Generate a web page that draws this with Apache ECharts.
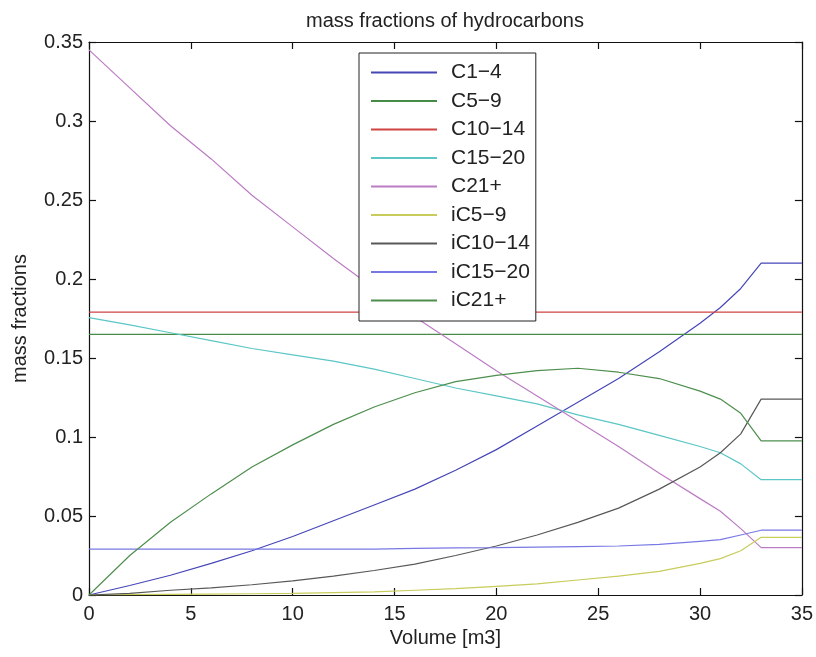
<!DOCTYPE html>
<html>
<head>
<meta charset="utf-8">
<script src="https://cdn.jsdelivr.net/npm/echarts@6/dist/echarts.min.js"></script>
<style>html,body{margin:0;padding:0;background:#fff}#c{width:816px;height:657px}</style>
</head>
<body>
<div id="c"></div>
<script>
var volume = [0,2,4,6,8,10,12,14,16,18,20,22,24,26,28,30,31,32,33,34,35];
var C1_4   = [0,0.006,0.0125,0.020,0.028,0.037,0.047,0.057,0.067,0.079,0.092,0.107,0.122,0.137,0.154,0.172,0.182,0.194,0.210,0.210,0.210];
var C5_9   = [0.165,0.165,0.165,0.165,0.165,0.165,0.165,0.165,0.165,0.165,0.165,0.165,0.165,0.165,0.165,0.165,0.165,0.165,0.165,0.165,0.165];
var C10_14 = [0.179,0.179,0.179,0.179,0.179,0.179,0.179,0.179,0.179,0.179,0.179,0.179,0.179,0.179,0.179,0.179,0.179,0.179,0.179,0.179,0.179];
var C15_20 = [0.1755,0.171,0.166,0.161,0.156,0.152,0.148,0.143,0.137,0.131,0.126,0.121,0.114,0.108,0.101,0.094,0.090,0.083,0.073,0.073,0.073];
var C21p   = [0.345,0.321,0.297,0.276,0.253,0.233,0.213,0.194,0.176,0.159,0.142,0.126,0.110,0.094,0.077,0.061,0.053,0.042,0.030,0.030,0.030];
var iC5_9  = [0,0.0002,0.0004,0.0006,0.0008,0.001,0.0015,0.002,0.003,0.004,0.0055,0.007,0.0095,0.012,0.015,0.020,0.023,0.028,0.0365,0.0365,0.0365];
var iC10_14= [0,0.001,0.003,0.0045,0.0065,0.009,0.012,0.0155,0.0195,0.025,0.031,0.038,0.046,0.055,0.067,0.081,0.090,0.102,0.124,0.124,0.124];
var iC15_20= [0.029,0.029,0.029,0.029,0.029,0.029,0.029,0.029,0.0295,0.0298,0.030,0.0303,0.0306,0.031,0.032,0.034,0.035,0.038,0.041,0.041,0.041];
var iC21p  = [0,0.025,0.046,0.064,0.081,0.095,0.108,0.119,0.128,0.135,0.139,0.142,0.1435,0.141,0.137,0.129,0.124,0.115,0.0975,0.0975,0.0975];
var seriesNames = ['C1\u22124','C5\u22129','C10\u221214','C15\u221220','C21+','iC5\u22129','iC10\u221214','iC15\u221220','iC21+'];
var seriesData = [C1_4,C5_9,C10_14,C15_20,C21p,iC5_9,iC10_14,iC15_20,iC21p];
var colors = ['#4646b8','#468c46','#d04444','#5cc6c6','#bc7cc4','#c8cc5a','#585858','#7878e4','#4e8e4e'];
var xTicks = {min:0,max:35,interval:5};
var yTicks = {min:0,max:0.35,interval:0.05};

var font = 'Liberation Sans, Arial, sans-serif';
var chart = echarts.init(document.getElementById('c'), null, {renderer:'canvas'});
var series = seriesNames.map(function(n,i){
  return {
    name:n, type:'line', xAxisIndex:0, yAxisIndex:0,
    showSymbol:false, symbol:'none', smooth:false,
    color:colors[i],
    lineStyle:{width:1.2,color:colors[i]},
    data: volume.map(function(v,k){return [v, seriesData[i][k]];}),
    z: 2
  };
});
var axisCommon = {
  axisLine:{show:true,onZero:false,lineStyle:{color:'#111',width:1.2}},
  axisTick:{show:true,inside:true,length:7,lineStyle:{color:'#111',width:1.2}},
  splitLine:{show:false}
};
chart.setOption({
  animation:false,
  backgroundColor:'#fff',
  title:{text:'mass fractions of hydrocarbons',left:301,top:6,
    textStyle:{fontFamily:font,fontSize:20,fontWeight:'normal',color:'#222'}},
  grid:{left:89,right:14,top:42,bottom:62},
  legend:{
    orient:'vertical', left:359, top:53,
    backgroundColor:'#fff', borderColor:'#222', borderWidth:1,
    padding:[9,6,10,12], itemGap:7.5, itemWidth:66, itemHeight:2, icon:'rect',
    textStyle:{fontFamily:font,fontSize:21,color:'#222',padding:[0,0,0,9]},
    data:seriesNames
  },
  xAxis:[
    Object.assign({type:'value',position:'bottom',min:xTicks.min,max:xTicks.max,interval:xTicks.interval,
      name:'Volume [m3]',nameLocation:'middle',nameGap:31,
      nameTextStyle:{fontFamily:font,fontSize:20,color:'#222'},
      axisLabel:{fontFamily:font,fontSize:20,color:'#222',margin:9}},axisCommon),
    Object.assign({type:'value',position:'top',min:xTicks.min,max:xTicks.max,interval:xTicks.interval,
      axisLabel:{show:false}},axisCommon)
  ],
  yAxis:[
    Object.assign({type:'value',position:'left',min:yTicks.min,max:yTicks.max,interval:yTicks.interval,
      name:'mass fractions',nameLocation:'middle',nameGap:59,nameRotate:90,
      nameTextStyle:{fontFamily:font,fontSize:20,color:'#222'},
      axisLabel:{fontFamily:font,fontSize:20,color:'#222',margin:6}},axisCommon),
    Object.assign({type:'value',position:'right',min:yTicks.min,max:yTicks.max,interval:yTicks.interval,
      axisLabel:{show:false}},axisCommon)
  ],
  series:series
});
</script>
</body>
</html>
